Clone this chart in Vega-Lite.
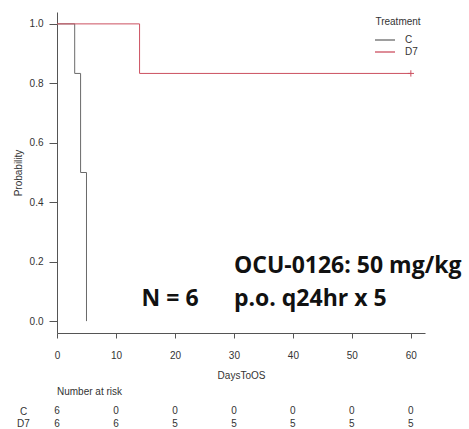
{
  "$schema": "https://vega.github.io/schema/vega-lite/v6.json",
  "background": "white",
  "padding": {"left": 13, "top": 12, "right": 0, "bottom": 0},
  "config": {
    "view": {"stroke": null},
    "font": "Liberation Sans",
    "axis": {
      "grid": false,
      "labelFont": "Liberation Sans",
      "titleFont": "Liberation Sans",
      "labelFontSize": 10,
      "titleFontSize": 10,
      "titleFontWeight": "normal",
      "labelColor": "#333333",
      "titleColor": "#333333",
      "domainColor": "#555555",
      "tickColor": "#555555"
    },
    "title": {"font": "Liberation Sans"}
  },
  "datasets": {
    "curves": [
      {"Treatment": "C", "time": 0, "surv": 1},
      {"Treatment": "C", "time": 3, "surv": 0.8333},
      {"Treatment": "C", "time": 4, "surv": 0.5},
      {"Treatment": "C", "time": 5, "surv": 0},
      {"Treatment": "D7", "time": 0, "surv": 1},
      {"Treatment": "D7", "time": 14, "surv": 0.8333},
      {"Treatment": "D7", "time": 60, "surv": 0.8333}
    ],
    "censor": [
      {"Treatment": "D7", "time": 60, "surv": 0.8333}
    ],
    "risk": [
      {"Treatment": "C", "time": 0, "n": 6},
      {"Treatment": "C", "time": 10, "n": 0},
      {"Treatment": "C", "time": 20, "n": 0},
      {"Treatment": "C", "time": 30, "n": 0},
      {"Treatment": "C", "time": 40, "n": 0},
      {"Treatment": "C", "time": 50, "n": 0},
      {"Treatment": "C", "time": 60, "n": 0},
      {"Treatment": "D7", "time": 0, "n": 6},
      {"Treatment": "D7", "time": 10, "n": 6},
      {"Treatment": "D7", "time": 20, "n": 5},
      {"Treatment": "D7", "time": 30, "n": 5},
      {"Treatment": "D7", "time": 40, "n": 5},
      {"Treatment": "D7", "time": 50, "n": 5},
      {"Treatment": "D7", "time": 60, "n": 5}
    ]
  },
  "spacing": 7,
  "vconcat": [
    {
      "width": 368,
      "height": 321,
      "layer": [
        {
          "data": {"name": "curves"},
          "mark": {"type": "line", "interpolate": "step-after", "strokeWidth": 1},
          "encoding": {
            "x": {
              "field": "time", "type": "quantitative",
              "scale": {"domain": [0, 62.4], "nice": false, "zero": false},
              "axis": {"title": "DaysToOS", "values": [0, 10, 20, 30, 40, 50, 60], "tickSize": 5, "labelPadding": 12, "titlePadding": 10, "labelFlush": false}
            },
            "y": {
              "field": "surv", "type": "quantitative",
              "scale": {"domain": [-0.04, 1.04], "nice": false, "zero": false},
              "axis": {"title": "Probability", "values": [0, 0.2, 0.4, 0.6, 0.8, 1.0], "format": ".1f", "tickSize": 8, "labelPadding": 6, "titlePadding": 6, "labelFlush": false}
            },
            "color": {
              "field": "Treatment", "type": "nominal",
              "scale": {"domain": ["C", "D7"], "range": ["#6a6a6a", "#CC5060"]},
              "legend": {
                "title": "Treatment", "orient": "none", "legendX": 318, "legendY": 5,
                "titleFontSize": 10, "titleFontWeight": "normal", "titleAnchor": "middle", "titleColor": "#333333", "titlePadding": 7,
                "labelFontSize": 10, "labelColor": "#333333", "labelOffset": 14,
                "symbolType": "M-2,0H2", "symbolSize": 100, "symbolStrokeWidth": 1.3, "rowPadding": 1
              }
            }
          }
        },
        {
          "data": {"name": "censor"},
          "mark": {"type": "point", "shape": "M-1,0H1M0,-1V1", "size": 40, "filled": false, "strokeWidth": 1, "color": "#CC5060", "opacity": 1},
          "encoding": {
            "x": {"field": "time", "type": "quantitative"},
            "y": {"field": "surv", "type": "quantitative"}
          }
        },
        {
          "data": {"values": [{"label": "N = 6"}]},
          "mark": {"type": "text", "align": "right", "baseline": "alphabetic", "font": "Open Sans", "fontWeight": 700, "fontSize": 23, "color": "#111111"},
          "encoding": {
            "x": {"datum": 24},
            "y": {"datum": 0.051},
            "text": {"field": "label"}
          }
        },
        {
          "data": {"values": [{"label": "OCU-0126: 50 mg/kg"}]},
          "mark": {"type": "text", "align": "left", "baseline": "alphabetic", "font": "Open Sans", "fontWeight": 700, "fontSize": 23, "color": "#111111"},
          "encoding": {
            "x": {"datum": 30},
            "y": {"datum": 0.162},
            "text": {"field": "label"}
          }
        },
        {
          "data": {"values": [{"label": "p.o. q24hr x 5"}]},
          "mark": {"type": "text", "align": "left", "baseline": "alphabetic", "font": "Open Sans", "fontWeight": 700, "fontSize": 23, "color": "#111111"},
          "encoding": {
            "x": {"datum": 30},
            "y": {"datum": 0.051},
            "text": {"field": "label"}
          }
        }
      ]
    },
    {
      "width": 368,
      "height": 25,
      "title": {"text": "Number at risk", "anchor": "start", "frame": "group", "fontSize": 10, "fontWeight": "normal", "color": "#333333", "baseline": "bottom", "offset": -2},
      "data": {"name": "risk"},
      "mark": {"type": "text", "fontSize": 10, "color": "#333333", "align": "center", "baseline": "middle"},
      "encoding": {
        "x": {
          "field": "time", "type": "quantitative",
          "scale": {"domain": [0, 62.4], "nice": false, "zero": false},
          "axis": null
        },
        "y": {
          "field": "Treatment", "type": "nominal",
          "scale": {"domain": ["C", "D7"], "paddingInner": 0, "paddingOuter": 0},
          "axis": {"title": null, "domain": false, "ticks": false, "labelAlign": "center", "labelPadding": 34, "labelFontSize": 10, "labelColor": "#333333"}
        },
        "text": {"field": "n", "type": "quantitative"}
      }
    }
  ]
}
